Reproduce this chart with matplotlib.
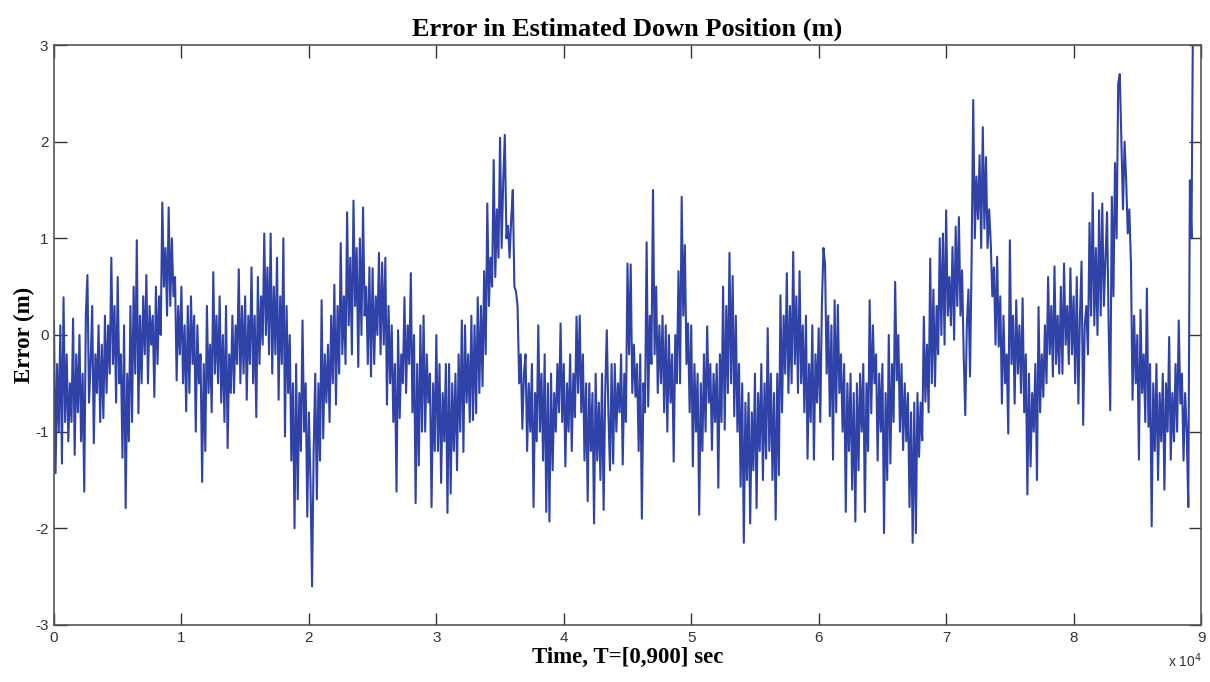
import matplotlib.pyplot as plt
import numpy as np

plt.rcParams["axes.unicode_minus"] = False

# sample spacing of the read-off values (s), one row = 1000 s
dt = 125

err = [
    0.15, -1.43, -0.3, -1.0, 0.1, -1.33, 0.39, -0.9,
    -0.2, -1.1, -0.5, -0.9, 0.17, -1.24, -0.2, -0.8,
    0.0, -1.1, -0.4, -1.62, 0.2, 0.62, -0.7, -0.3,
    0.3, -1.12, -0.2, -0.6, 0.1, -0.9, -0.1, -0.86,
    0.2, -0.6, 0.1, -0.4, 0.8, -0.3, 0.3, -0.7,
    0.6, -0.5, -0.2, -1.27, 0.1, -1.79, -0.4, -1.1,
    0.3, -0.9, 0.5, -0.4, 0.98, -0.81, 0.2, -0.5,
    0.4, -0.2, 0.62, -0.5, 0.3, -0.1, 0.2, -0.64,
    0.5, -0.3, 0.4, 0.0, 1.37, 0.5, 0.9, 0.2,
    1.32, 0.3, 1.0, 0.4, 0.6, -0.47, 0.3, -0.2,
    0.5, -0.5, 0.1, -0.79, 0.3, -0.6, 0.4, -0.3,
    0.2, -1.0, 0.1, -0.5, -0.2, -1.52, -0.3, -1.2,
    0.3, -0.6, -0.1, -0.8, 0.65, -0.4, 0.2, -0.5,
    0.4, -0.7, 0.0, -0.9, 0.3, -1.17, -0.2, -0.6,
    0.2, -0.6, 0.1, -0.3, 0.68, -0.5, 0.3, -0.4,
    0.4, -0.67, 0.2, -0.3, 0.7, -0.5, 0.2, -0.85,
    0.6, -0.3, 0.4, -0.1, 1.05, 0.0, 0.7, -0.2,
    1.05, -0.4, 0.5, -0.2, 0.8, -0.67, 0.4, -0.3,
    1.0, -1.05, 0.3, -0.6, 0.0, -1.3, -0.5, -2.0,
    -0.3, -1.7, -0.6, -1.2, 0.15, -1.0, -0.5, -1.88,
    -0.8, -1.5, -2.6, -1.2, -0.4, -1.7, -0.5, -1.3,
    0.36, -1.07, -0.2, -0.7, -0.1, -0.9, 0.2, -0.5,
    0.52, -0.72, 0.3, -0.4, 0.95, -0.2, 0.4, -0.3,
    1.27, 0.1, 0.8, -0.2, 1.39, 0.3, 0.9, -0.33,
    1.0, 0.0, 1.32, 0.2, 0.5, -0.3, 0.7, -0.43,
    0.69, -0.3, 0.4, 0.0, 0.85, -0.2, 0.75, -0.1,
    0.8, -0.72, 0.3, -0.5, 0.1, -0.9, -0.3, -1.62,
    0.05, -0.86, -0.2, -0.5, 0.39, -0.6, 0.1, -0.3,
    0.64, -0.8, 0.0, -1.74, -0.3, -1.35, 0.1, -1.0,
    0.2, -1.0, -0.2, -0.7, -0.4, -1.78, -0.5, -1.2,
    0.0, -1.2, -0.3, -1.53, -0.6, -1.1, -0.3, -1.84,
    -0.3, -1.64, -0.5, -1.2, -0.4, -1.4, -0.2, -1.0,
    0.15, -1.21, 0.1, -0.7, -0.2, -0.9, 0.2, -0.88,
    0.1, -0.81, 0.39, -0.6, 0.3, -0.53, 0.66, -0.2,
    1.36, 0.3, 0.8, 0.5, 1.81, 0.6, 1.3, 0.8,
    2.04, 0.9, 1.6, 2.07, 1.0, 1.13, 0.8, 1.2,
    1.5, 0.5, 0.45, 0.3, -0.5, -0.2, -0.97, -0.4,
    -0.2, -1.2, -0.5, -1.0, -0.3, -1.78, -0.6, -1.1,
    0.1, -1.0, -0.4, -1.3, -0.2, -1.83, -0.5, -1.93,
    -0.4, -1.4, -0.6, -1.0, -0.3, -0.8, 0.12, -0.9,
    -0.3, -1.36, -0.5, -1.0, -0.2, -1.2, -0.4, -0.85,
    0.19, -0.6, 0.2, -0.8, -0.2, -1.3, -0.5, -1.72,
    -0.5, -1.2, -0.6, -1.95, -0.4, -1.3, -0.7, -1.5,
    -0.4, -1.81, -0.6, 0.05, -0.8, -1.4, -0.3, -1.33,
    -0.3, -1.0, -0.5, -0.8, -0.2, -1.34, -0.4, -0.9,
    0.74, -0.2, 0.73, -0.6, -0.1, -0.64, -0.3, -1.2,
    -0.2, -1.9, -0.5, -0.8, 0.96, -0.74, 0.2, -0.3,
    1.5, -0.2, 0.5, -0.6, 0.1, -0.5, 0.2, -0.8,
    0.1, -1.0, 0.0, -0.7, -0.2, -1.31, 0.0, -0.5,
    0.66, -0.5, 1.43, 0.2, 0.93, -0.3, 0.12, -0.8,
    0.1, -1.36, -0.3, -1.0, -0.4, -1.86, -0.5, -1.2,
    -0.2, -1.0, 0.09, -0.7, -0.3, -1.19, -0.4, -0.9,
    -0.3, -1.58, -0.2, -0.9, 0.5, -0.98, 0.3, -0.6,
    0.85, -0.5, 0.61, -0.84, 0.2, -1.0, -0.3, -1.57,
    -0.5, -2.15, -0.7, -1.5, -0.6, -1.95, -0.8, -1.4,
    -0.4, -1.79, -0.6, -1.2, -0.3, -1.5, -0.5, -1.28,
    0.07, -1.2, -0.4, -1.5, -0.6, -1.91, -0.4, -1.45,
    0.41, -0.8, 0.2, -0.4, 0.64, -0.6, 0.3, -0.5,
    0.86, -0.3, 0.4, -0.6, 0.66, -0.5, 0.1, -0.8,
    0.2, -1.28, -0.3, -0.9, 0.1, -1.29, -0.2, -0.7,
    0.07, -0.9, 0.3, 0.9, 0.73, -0.4, 0.2, -0.84,
    0.1, -1.29, 0.36, -0.8, 0.31, -0.6, -0.2, -1.0,
    -0.3, -1.83, -0.5, -1.2, -0.4, -1.6, -0.6, -1.93,
    -0.5, -1.4, -0.4, -1.0, -0.3, -1.83, -0.5, -1.2,
    0.36, -0.81, 0.1, -0.5, -0.2, -1.3, -0.4, -1.0,
    -0.3, -2.05, -0.6, -1.5, 0.0, -1.33, -0.3, -0.9,
    0.55, -0.47, 0.0, -1.0, -0.3, -1.19, -0.5, -1.1,
    -0.6, -1.78, -0.8, -2.15, -0.7, -2.05, -0.6, -1.26,
    -0.7, -1.09, 0.19, -0.69, -0.1, -0.8, 0.79, -0.5,
    0.47, -0.53, 0.3, -0.2, 1.0, 0.0, 1.05, -0.1,
    1.29, 0.2, 0.6, 0.1, 0.91, -0.05, 1.12, 0.3,
    1.22, 0.2, 0.67, -0.2, -0.83, 0.1, 0.47, -0.43,
    0.81, 2.43, 1.0, 1.64, 1.2, 1.86, 0.9, 2.15,
    1.1, 1.84, 0.9, 1.3, 0.95, 0.4, 0.7, -0.1,
    0.81, -0.12, 0.4, -0.71, 0.2, -0.5, -0.2, -1.02,
    0.98, -0.3, 0.2, -0.71, 0.36, -0.4, 0.1, -0.6,
    0.38, -0.8, -0.2, -1.65, -0.4, -1.36, -0.6, -1.0,
    -0.3, -1.5, 0.29, -0.8, -0.2, -0.64, 0.1, -0.5,
    0.6, -0.2, 0.3, -0.43, 0.71, -0.3, 0.2, -0.4,
    0.5, -0.4, 0.74, -0.1, 0.3, -0.3, 0.69, -0.2,
    0.4, -0.5, 0.6, -0.71, 0.2, 0.76, -0.93, 0.1,
    0.3, -0.2, 1.16, 0.2, 1.47, 0.1, 0.9, 0.0,
    1.29, 0.2, 1.36, 0.3, 0.8, 1.27, 0.1, -0.78,
    1.43, 0.4, 1.78, 1.0, 2.6, 2.7, 2.0, 1.3,
    2.0, 1.6, 1.05, 1.3, 0.74, -0.67, 0.2, -0.5,
    0.0, -1.29, 0.26, -0.6, -0.2, -0.9, 0.48, -0.95,
    -0.3, -1.98, -0.5, -1.2, -0.3, -1.5, -0.6, -1.1,
    -0.4, -1.6, -0.5, -1.0, -0.02, -1.29, -0.6, -1.1,
    -0.3, -1.0, 0.15, -0.71, -0.4, -1.3, -0.6, -1.0,
    -1.78, 1.6, 1.0, 3.5,
]

xticks = [0, 10000, 20000, 30000, 40000, 50000, 60000, 70000, 80000, 90000]
xticklabels = ["0", "1", "2", "3", "4", "5", "6", "7", "8", "9"]
yticks = [-3, -2, -1, 0, 1, 2, 3]

t = np.arange(len(err)) * dt

fig = plt.figure(figsize=(12.1, 6.82), dpi=100)
ax = fig.add_axes([0.0446, 0.0836, 0.948, 0.8504])

ax.plot(t, err, color="#2f42a8", lw=1.5)

ax.set_xlim(0, 90000)
ax.set_ylim(-3, 3)
ax.set_xticks(xticks)
ax.set_xticklabels(xticklabels)
ax.set_yticks(yticks)
ax.tick_params(direction="in", length=9, width=1, top=True, right=True,
               labelsize=11, colors="#333333", pad=4)
for lab in ax.get_xticklabels() + ax.get_yticklabels():
    lab.set_family("Liberation Sans")
for sp in ax.spines.values():
    sp.set_color("#555555")
    sp.set_linewidth(1.2)

serif = dict(family="Liberation Serif", weight="bold")
ax.set_title("Error in Estimated Down Position (m)", fontsize=19, pad=7, **serif)
ax.set_xlabel("Time, T=[0,900] sec", fontsize=16.5, labelpad=2, **serif)
ax.set_ylabel("Error (m)", fontsize=16.5, labelpad=0, **serif)

fig.text(0.979, 0.022, r"x 10$^4$", fontsize=10, family="Liberation Sans",
         color="#333333", ha="center")

fig.savefig("out.png", dpi=100)
